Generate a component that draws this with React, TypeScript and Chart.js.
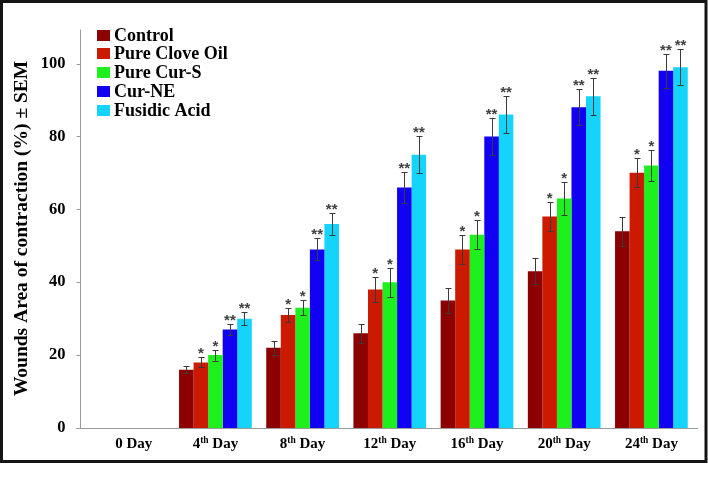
import React, { useEffect, useRef } from 'react';
import { Chart, registerables } from 'chart.js';

Chart.register(...registerables);

const categories = ['0 Day', '4th Day', '8th Day', '12th Day', '16th Day', '20th Day', '24th Day'];
const labelNums = ['   0', '4', '8', '12', '16', '20', '24'];
const labelSups = ['', 'th', 'th', 'th', 'th', 'th', 'th'];
const labelTail = ' Day';

const seriesNames = ['Control', 'Pure Clove Oil', 'Pure Cur-S', 'Cur-NE', 'Fusidic Acid'];
const seriesColors = ['#8c0000', '#cc1a00', '#1ef01e', '#1200f2', '#14d4fc'];

const control = [null, 16, 22, 26, 35, 43, 54];
const cloveOil = [null, 18, 31, 38, 49, 58, 70];
const curS = [null, 20, 33, 40, 53, 63, 72];
const curNE = [null, 27, 49, 66, 80, 88, 98];
const fusidic = [null, 30, 56, 75, 86, 91, 99];

const controlErr = [null, 1, 2, 2.6, 3.4, 3.6, 4];
const cloveErr = [null, 1.4, 2, 3.3, 4, 4, 4];
const curSErr = [null, 1.5, 2, 4, 4, 4.6, 4.3];
const curNEErr = [null, 1.6, 3, 4.3, 5, 4.9, 4.6];
const fusidicErr = [null, 1.7, 3, 5, 5, 5, 5];

const seriesMarks = ['', '*', '*', '**', '**'];

const yTitle = 'Wounds Area of contraction (%) ± SEM';
const yMax = 109.5;
const yStep = 20;

const SERIF = '"Liberation Serif", "Times New Roman", serif';
const SANS = '"Liberation Sans", Arial, sans-serif';

const allValues = [control, cloveOil, curS, curNE, fusidic];
const allErrors = [controlErr, cloveErr, curSErr, curNEErr, fusidicErr];

const customPlugin = {
  id: 'customDraw',
  afterDatasetsDraw(chart: any) {
    const ctx = chart.ctx;
    const yScale = chart.scales.y;
    const xScale = chart.scales.x;
    const area = chart.chartArea;
    const zeroY = Math.round(yScale.getPixelForValue(0)) + 0.5;
    const axisX = 80.5;

    ctx.save();
    // axes
    ctx.strokeStyle = '#9a9a9a';
    ctx.lineWidth = 1;
    ctx.beginPath();
    ctx.moveTo(axisX, Math.round(area.top) + 0.5);
    ctx.lineTo(axisX, zeroY);
    ctx.moveTo(axisX - 4, zeroY);
    ctx.lineTo(area.right + 3, zeroY);
    yScale.ticks.forEach((t: any) => {
      const py = Math.round(yScale.getPixelForValue(t.value)) + 0.5;
      ctx.moveTo(axisX - 4, py);
      ctx.lineTo(axisX, py);
    });
    ctx.stroke();

    // error bars and significance marks
    chart.data.datasets.forEach((ds: any, i: number) => {
      const meta = chart.getDatasetMeta(i);
      const errs = allErrors[i];
      meta.data.forEach((el: any, j: number) => {
        const v = ds.data[j];
        const e = errs[j];
        if (v == null || e == null) return;
        const x = Math.round(el.x) + 0.5;
        const yt = Math.round(yScale.getPixelForValue(v + e)) + 0.5;
        const yb = Math.round(yScale.getPixelForValue(v - e)) + 0.5;
        ctx.strokeStyle = '#3a3a3a';
        ctx.lineWidth = 1;
        ctx.beginPath();
        ctx.moveTo(x, yt);
        ctx.lineTo(x, yb);
        ctx.moveTo(x - 3, yt);
        ctx.lineTo(x + 3, yt);
        ctx.moveTo(x - 3, yb);
        ctx.lineTo(x + 3, yb);
        ctx.stroke();
        const mark = seriesMarks[i];
        if (mark) {
          ctx.font = 'bold 15px ' + SANS;
          ctx.fillStyle = '#404040';
          ctx.textAlign = 'center';
          ctx.textBaseline = 'alphabetic';
          const m = ctx.measureText(mark);
          const cy = yt - 6.5;
          ctx.fillText(mark, el.x, cy + (m.actualBoundingBoxAscent - m.actualBoundingBoxDescent) / 2);
        }
      });
    });

    // x labels with superscripts
    ctx.fillStyle = '#000';
    ctx.textBaseline = 'alphabetic';
    ctx.textAlign = 'left';
    categories.forEach((_c, i) => {
      const cx = xScale.getPixelForValue(i);
      const big = 'bold 15px ' + SERIF;
      const small = 'bold 9.5px ' + SERIF;
      ctx.font = big;
      const w1 = ctx.measureText(labelNums[i]).width;
      const w3 = ctx.measureText(labelTail).width;
      ctx.font = small;
      const w2 = labelSups[i] ? ctx.measureText(labelSups[i]).width : 0;
      let x0 = cx - (w1 + w2 + w3) / 2;
      const base = 447.5;
      ctx.font = big;
      ctx.fillText(labelNums[i], x0, base);
      x0 += w1;
      if (labelSups[i]) {
        ctx.font = small;
        ctx.fillText(labelSups[i], x0, base - 4.5);
        x0 += w2;
      }
      ctx.font = big;
      ctx.fillText(labelTail, x0, base);
    });

    // legend
    chart.data.datasets.forEach((ds: any, i: number) => {
      const cy = 35 + i * 18.75;
      ctx.fillStyle = ds.backgroundColor;
      ctx.fillRect(97, Math.round(cy - 5.5), 13, 11);
      ctx.fillStyle = '#000';
      ctx.font = 'bold 18px ' + SERIF;
      ctx.textBaseline = 'middle';
      ctx.textAlign = 'left';
      ctx.fillText(ds.label, 114, cy + 1);
    });

    // outer frame
    ctx.strokeStyle = '#151515';
    ctx.lineWidth = 3;
    ctx.strokeRect(1.5, 1.5, 704.5, 460);
    ctx.restore();
  },
};

export default function App() {
  const canvasRef = useRef<HTMLCanvasElement | null>(null);

  useEffect(() => {
    const canvas = canvasRef.current;
    if (!canvas) return;
    const chart = new Chart(canvas, {
      type: 'bar',
      data: {
        labels: categories,
        datasets: allValues.map((vals, i) => ({
          label: seriesNames[i],
          data: vals,
          backgroundColor: seriesColors[i],
          borderWidth: 0,
          categoryPercentage: 0.834,
          barPercentage: 1.0,
        })),
      },
      options: {
        animation: false,
        responsive: false,
        maintainAspectRatio: false,
        events: [],
        layout: { padding: { left: 0, right: 13, top: 12, bottom: 0 } },
        plugins: {
          legend: { display: false },
          tooltip: { enabled: false },
          title: { display: false },
        },
        scales: {
          x: {
            type: 'category',
            offset: true,
            grid: { display: false, drawTicks: false },
            border: { display: false },
            ticks: { display: false },
            afterFit: (scale: any) => {
              scale.height = 60;
            },
          },
          y: {
            type: 'linear',
            min: 0,
            max: yMax,
            grid: { display: false, drawTicks: false },
            border: { display: false },
            ticks: {
              stepSize: yStep,
              padding: 19,
              color: '#000',
              font: { family: SERIF, size: 16.5, weight: 'bold' },
            },
            afterBuildTicks: (scale: any) => {
              scale.ticks = scale.ticks.filter((t: any) => t.value % yStep === 0);
            },
            afterFit: (scale: any) => {
              scale.width = 84.6;
            },
            title: {
              display: true,
              text: yTitle,
              color: '#000',
              font: { family: SERIF, size: 19.5, weight: 'bold' },
              padding: { top: 10, bottom: 0 },
            },
          },
        },
      },
      plugins: [customPlugin],
    } as any);
    return () => chart.destroy();
  }, []);

  return (
    <div style={{ position: 'fixed', left: 0, top: 0, width: 708, height: 488, background: '#fff' }}>
      <canvas ref={canvasRef} width={708} height={488} style={{ width: 708, height: 488, display: 'block' }} />
    </div>
  );
}
